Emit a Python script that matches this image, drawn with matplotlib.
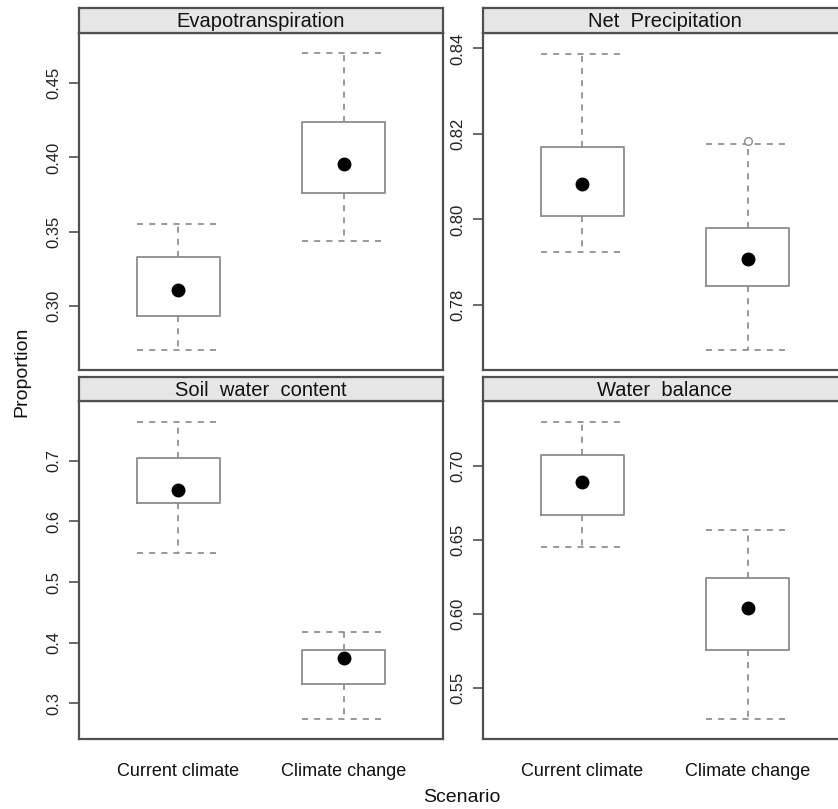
import matplotlib
matplotlib.use("Agg")
import matplotlib.pyplot as plt
from matplotlib.ticker import FixedLocator, FormatStrFormatter

plt.rcParams['font.family'] = ['Liberation Sans', 'DejaVu Sans']

scenarios = ["Current climate", "Climate change"]
panels = ["Evapotranspiration", "Net  Precipitation", "Soil  water  content", "Water  balance"]

# five-number summaries per panel: [current climate, climate change]
whisker_low = [[0.2701, 0.3437], [0.7923, 0.7695], [0.5473, 0.2746], [0.6453, 0.5292]]
quartile_1 = [[0.2929, 0.3762], [0.8009, 0.7845], [0.6307, 0.3313], [0.6671, 0.5757]]
medians = [[0.3106, 0.3956], [0.8083, 0.7907], [0.6521, 0.3743], [0.6892, 0.6041]]
quartile_3 = [[0.3330, 0.4239], [0.8170, 0.7979], [0.7044, 0.3880], [0.7076, 0.6241]]
whisker_high = [[0.3552, 0.4702], [0.8388, 0.8177], [0.7643, 0.4171], [0.7300, 0.6566]]
outliers = [[[], []], [[], [0.8184]], [[], []], [[], []]]

y_ticks = [[0.30, 0.35, 0.40, 0.45], [0.78, 0.80, 0.82, 0.84],
           [0.3, 0.4, 0.5, 0.6, 0.7], [0.55, 0.60, 0.65, 0.70]]
y_fmt = ["%.2f", "%.2f", "%.1f", "%.2f"]
y_limits = [(0.2567, 0.4839), (0.7648, 0.8436), (0.2412, 0.7984), (0.5155, 0.7442)]

W, H = 838, 809
fig = plt.figure(figsize=(W / 100, H / 100), dpi=100)

frame_col = "#505050"
box_col = "#8c8c8c"
strip_fill = "#e6e6e6"
dash = (0, (3.5, 3.5))

# panel layout in pixels: (left, right, strip_top, plot_top, plot_bottom)
layout = [(79, 443, 8, 33, 370), (483, 847, 8, 33, 370),
          (79, 443, 377, 401, 739), (483, 847, 377, 401, 739)]


def frac_rect(x0, x1, y0, y1):
    return [x0 / W, 1 - y1 / H, (x1 - x0) / W, (y1 - y0) / H]


for i, name in enumerate(panels):
    x0, x1, st, pt, pb = layout[i]
    ax = fig.add_axes(frac_rect(x0, x1, pt, pb))
    sax = fig.add_axes(frac_rect(x0, x1, st, pt))

    stats = []
    for j, lab in enumerate(scenarios):
        stats.append(dict(label=lab, whislo=whisker_low[i][j], q1=quartile_1[i][j],
                          med=medians[i][j], q3=quartile_3[i][j],
                          whishi=whisker_high[i][j], fliers=outliers[i][j]))
    ax.bxp(stats, positions=[1, 2], widths=0.5, capwidths=0.5,
           boxprops=dict(color=box_col, lw=1.3),
           whiskerprops=dict(color=box_col, lw=1.25, linestyle=dash),
           capprops=dict(color=box_col, lw=1.25, linestyle=dash),
           medianprops=dict(linestyle="none"),
           flierprops=dict(marker="o", markersize=5.5, markerfacecolor="white",
                           markeredgecolor=box_col, markeredgewidth=1.0))
    ax.plot([1, 2], medians[i], "o", color="black", markersize=9, zorder=5)

    ax.set_xlim(0.4, 2.6)
    ax.set_ylim(*y_limits[i])
    ax.yaxis.set_major_locator(FixedLocator(y_ticks[i]))
    ax.yaxis.set_major_formatter(FormatStrFormatter(y_fmt[i]))
    for lbl in ax.get_yticklabels():
        lbl.set_rotation(90)
        lbl.set_va("center")
    ax.tick_params(axis="y", length=7.5, width=1.2, color=frame_col, pad=5,
                   labelsize=12, labelcolor="#222222")
    ax.set_xticks([1, 2])
    if i >= 2:
        ax.set_xticklabels(scenarios)
        ax.tick_params(axis="x", length=0, pad=17, labelsize=13, labelcolor="#111111")
    else:
        ax.set_xticklabels([])
        ax.tick_params(axis="x", length=0)
    for sp in ax.spines.values():
        sp.set_color(frame_col)
        sp.set_linewidth(1.6)

    sax.set_facecolor(strip_fill)
    sax.set_xticks([])
    sax.set_yticks([])
    for sp in sax.spines.values():
        sp.set_color(frame_col)
        sp.set_linewidth(1.6)
    sax.text(0.5, 0.45, name, transform=sax.transAxes, ha="center", va="center",
             fontsize=14.5, color="#111111")

fig.text(22 / W, 1 - 372 / H, "Proportion", rotation=90, ha="center", va="center",
         fontsize=14, color="#111111")
fig.text(462 / W, 1 - 798 / H, "Scenario", ha="center", va="center",
         fontsize=14, color="#111111")

fig.savefig("out.png", dpi=100, facecolor="white")
